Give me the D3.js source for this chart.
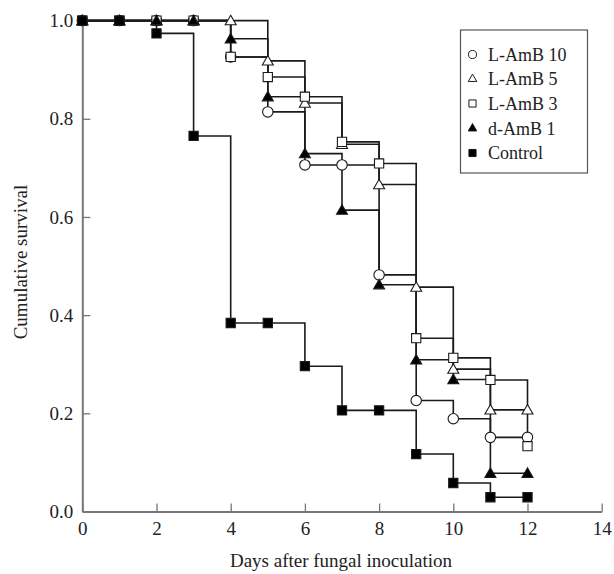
<!DOCTYPE html>
<html><head><meta charset="utf-8">
<script src="https://cdn.jsdelivr.net/npm/d3@7"></script>
<style>body{margin:0;background:#fff}</style>
</head><body><svg id="c" width="614" height="574"></svg>
<script>
const days = [0,1,2,3,4,5,6,7,8,9,10,11,12];
const lamb10 = [1,1,1,1,0.926,0.814,0.706,0.706,0.482,0.226,0.189,0.151,0.151];
const lamb5  = [1,1,1,1,1,0.918,0.832,0.748,0.666,0.457,0.290,0.207,0.207];
const lamb3  = [1,1,1,1,0.926,0.885,0.845,0.753,0.709,0.353,0.313,0.268,0.133];
const damb1  = [1,1,1,1,0.963,0.845,0.729,0.614,0.462,0.309,0.269,0.078,0.078];
const control= [1,1,0.974,0.765,0.384,0.384,0.296,0.206,0.206,0.117,0.058,0.029,0.029];
const seriesNames = ["L-AmB 10","L-AmB 5","L-AmB 3","d-AmB 1","Control"];
const xTicks = [0,2,4,6,8,10,12,14];
const yTicks = [0,0.2,0.4,0.6,0.8,1.0];

const series = [
  {name:seriesNames[0], vals:lamb10, sym:d3.symbolCircle, fill:"#fff", size:85},
  {name:seriesNames[1], vals:lamb5, sym:d3.symbolTriangle, fill:"#fff", size:52},
  {name:seriesNames[2], vals:lamb3, sym:d3.symbolSquare, fill:"#fff", size:85},
  {name:seriesNames[3], vals:damb1, sym:d3.symbolTriangle, fill:"#000", size:52},
  {name:seriesNames[4], vals:control, sym:d3.symbolSquare, fill:"#000", size:85}
];

const svg = d3.select("#c");
const x = d3.scaleLinear().domain([0,14]).range([82.3,601.7]);
const y = d3.scaleLinear().domain([0,1]).range([511.5,20.6]);
const font = "'Liberation Serif', 'Times New Roman', serif";
const axisCol = "#777";

// axes
const gx = svg.append("g").attr("transform",`translate(0,${y(0)})`)
  .call(d3.axisBottom(x).tickValues(xTicks).tickFormat(d3.format("d")).tickSizeInner(-8).tickSizeOuter(0).tickPadding(10));
const gy = svg.append("g").attr("transform",`translate(${x(0)},0)`)
  .call(d3.axisLeft(y).tickValues(yTicks).tickFormat(d3.format(".1f")).tickSizeInner(-8).tickSizeOuter(0).tickPadding(9));
[gx,gy].forEach(g=>{
  g.select(".domain").attr("stroke",axisCol).attr("stroke-width",2);
  g.selectAll(".tick line").attr("stroke",axisCol).attr("stroke-width",1.3);
  g.selectAll("text").attr("font-family",font).attr("font-size",19).attr("fill","#222");
});

// step lines
const line = d3.line().x((d,i)=>x(days[i])).y(d=>y(d)).curve(d3.curveStepAfter);
series.forEach(s=>{
  svg.append("path").datum(s.vals).attr("d",line)
    .attr("fill","none").attr("stroke","#1a1a1a").attr("stroke-width",1.6);
});
// markers
series.forEach(s=>{
  svg.append("g").selectAll("path").data(s.vals).join("path")
    .attr("transform",(d,i)=>`translate(${x(days[i])},${y(d) + (s.sym===d3.symbolTriangle? 1:0)})`)
    .attr("d",d3.symbol().type(s.sym).size(s.size))
    .attr("fill",s.fill).attr("stroke","#1a1a1a").attr("stroke-width",1.1);
});

// axis titles
svg.append("text").attr("x",341).attr("y",567).attr("text-anchor","middle")
  .attr("font-family",font).attr("font-size",19).attr("fill","#222").text("Days after fungal inoculation");
svg.append("text").attr("transform","translate(27,262) rotate(-90)").attr("text-anchor","middle")
  .attr("font-family",font).attr("font-size",19).attr("fill","#222").text("Cumulative survival");

// legend
const lg = svg.append("g");
lg.append("rect").attr("x",460.5).attr("y",30).attr("width",127).attr("height",143)
  .attr("fill","#fff").attr("stroke","#555").attr("stroke-width",1.2);
const ly = [54.5,79,103.5,128.5,153];
series.forEach((s,i)=>{
  lg.append("path").attr("transform",`translate(472.5,${ly[i]})`)
    .attr("d",d3.symbol().type(s.sym).size(s.size*0.6))
    .attr("fill",s.fill).attr("stroke","#1a1a1a").attr("stroke-width",1);
  lg.append("text").attr("x",488).attr("y",ly[i]+6).attr("font-family",font).attr("font-size",18)
    .attr("fill","#222").text(s.name);
});
</script></body></html>
